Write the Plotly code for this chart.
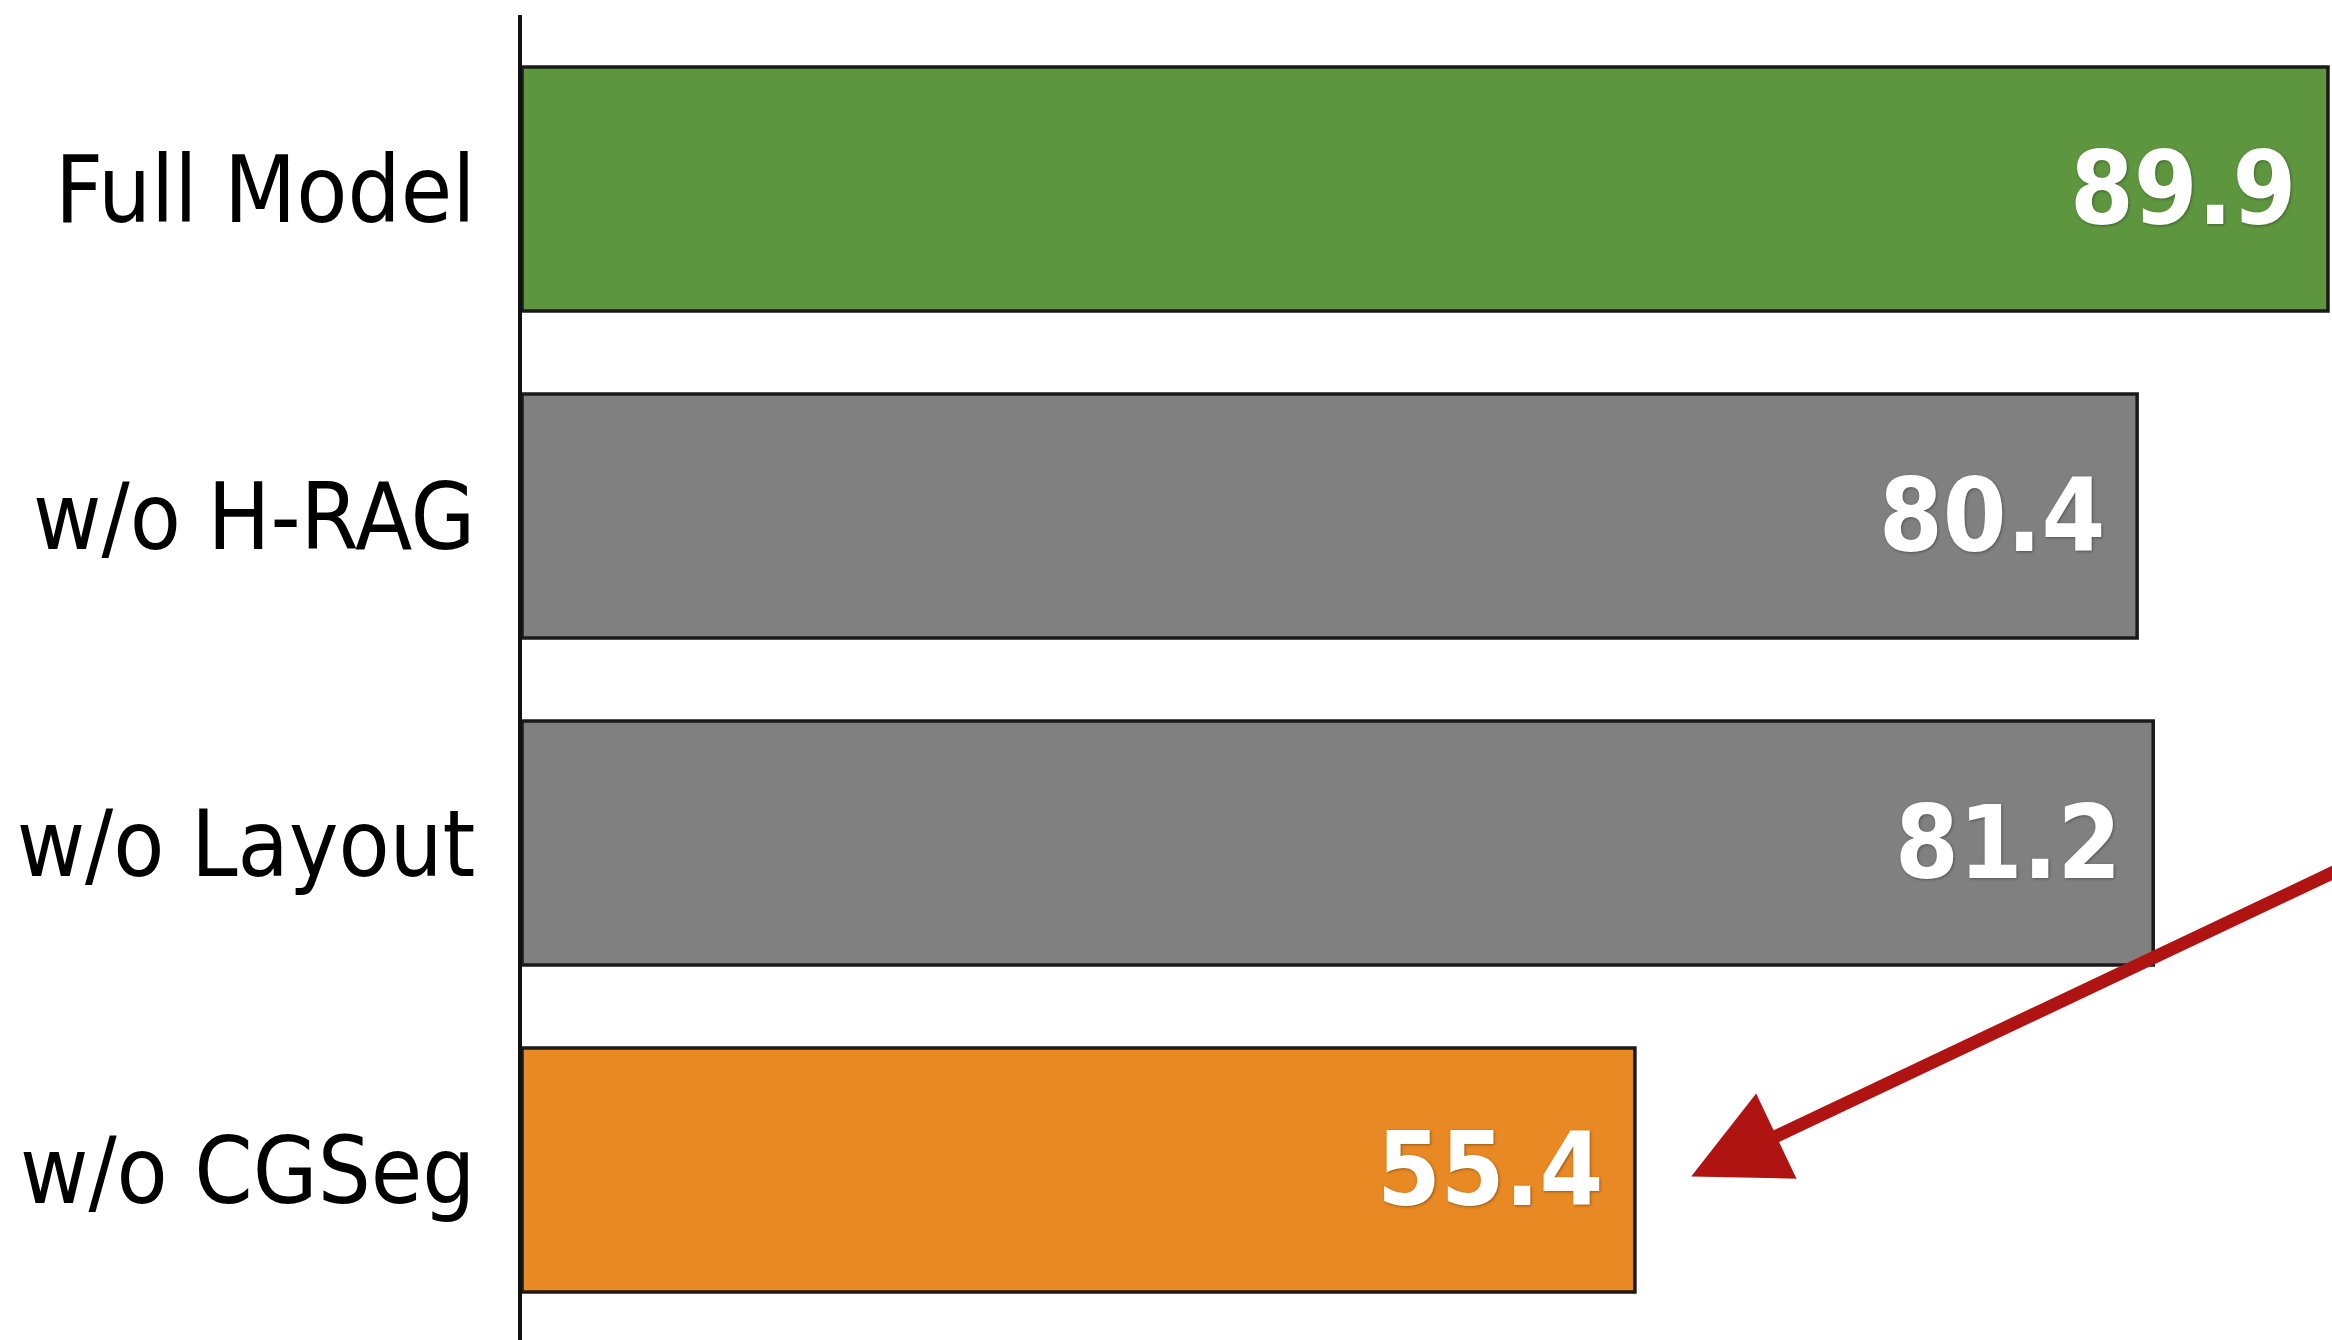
import plotly.graph_objects as go

# Ablation results (accuracy, %)
categories = ["Full Model", "w/o H-RAG", "w/o Layout", "w/o CGSeg"]
scores = [89.9, 80.4, 81.2, 55.4]
bar_colors = ["#5E9640", "#808080", "#808080", "#E88923"]

label_font = "Liberation Sans Narrow, Arial Narrow, DejaVu Sans Condensed, sans-serif"

fig = go.Figure(
    go.Bar(
        x=scores,
        y=categories,
        orientation="h",
        width=0.746,
        marker=dict(color=bar_colors, line=dict(color="#1a1a1a", width=3.5)),
        hoverinfo="skip",
    )
)

# Value labels inside the bar ends
for cat, val in zip(categories, scores):
    fig.add_annotation(
        x=val, y=cat, xref="x", yref="y",
        text=f"{val:.1f}",
        showarrow=False,
        xanchor="right", yanchor="middle",
        xshift=-30,
        font=dict(family=label_font, size=102, color="#FFFFFF", weight="bold",
                  shadow="1px 1px 3px rgba(0,0,0,0.35)"),
    )

# Arrow pointing at the CGSeg drop
fig.add_annotation(
    x=58.2, y=3.02, xref="x", yref="y",
    ax=91.2, ay=2.06, axref="x", ayref="y",
    text="", showarrow=True,
    arrowhead=2, arrowsize=1.45, arrowwidth=13,
    arrowcolor="#B01412",
)

fig.update_layout(
    width=2332, height=1340,
    margin=dict(l=522, r=0, t=15, b=0),
    paper_bgcolor="#FFFFFF",
    plot_bgcolor="#FFFFFF",
    showlegend=False,
    xaxis=dict(range=[0, 90.1], visible=False, fixedrange=True, automargin=False),
    yaxis=dict(
        type="category",
        range=[3.52, -0.532],
        automargin=False,
        showline=True, linecolor="#111111", linewidth=4,
        showgrid=False, zeroline=False,
        ticks="", ticklabelstandoff=24,
        tickfont=dict(family=label_font, size=93, color="#000000"),
        fixedrange=True,
    ),
)

fig.write_html("out.html", config={"displayModeBar": False})
